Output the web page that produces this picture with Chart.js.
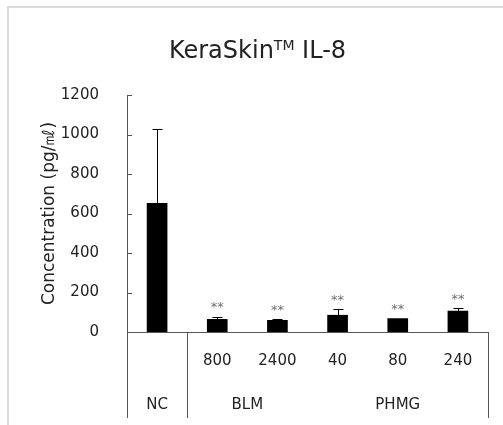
<!DOCTYPE html>
<html>
<head>
<meta charset="utf-8">
<script src="https://cdn.jsdelivr.net/npm/chart.js@4.4.0/dist/chart.umd.min.js"></script>
<style>
html,body{margin:0;padding:0;background:#fff;}
#wrap{width:503px;height:425px;}
</style>
</head>
<body>
<div id="wrap"><canvas id="il8Chart" width="503" height="425"></canvas></div>
<script>
// values
const doses = ['', '800', '2400', '40', '80', '240'];
const meanValues = [651, 64, 59, 85, 68, 106];
const errorValues = [377, 14, 5, 30, 0, 13];
const marks = ['', '**', '**', '**', '**', '**'];
const groupNames = ['NC', 'BLM', 'PHMG'];
const groupFirst = [0, 1, 3];
const groupLast = [0, 2, 5];
const dividers = [-0.5, 0.5, 5.5];
const yMax = 1200;
const yStep = 200;

const FONT = '"DejaVu Sans", sans-serif';
const AXIS_COLOR = '#555';
const TEXT_COLOR = '#222';

const extrasPlugin = {
    id: 'extras',
    beforeDraw(chart) {
        const ctx = chart.ctx;
        ctx.save();
        ctx.fillStyle = '#fff';
        ctx.fillRect(0, 0, chart.width, chart.height);
        // frame of the original figure
        ctx.strokeStyle = '#d9d9d9';
        ctx.lineWidth = 2;
        ctx.beginPath();
        ctx.moveTo(8, chart.height);
        ctx.lineTo(8, 7);
        ctx.lineTo(chart.width, 7);
        ctx.stroke();
        ctx.restore();
    },
    afterDatasetsDraw(chart) {
        const ctx = chart.ctx;
        const y = chart.scales.y;
        const meta = chart.getDatasetMeta(0);
        ctx.save();
        meta.data.forEach((bar, i) => {
            const top = y.getPixelForValue(meanValues[i] + errorValues[i]);
            if (errorValues[i] > 0) {
                const x = Math.round(bar.x) + 0.5;
                const yt = Math.round(top) + 0.5;
                ctx.strokeStyle = '#000';
                ctx.lineWidth = 1;
                ctx.beginPath();
                ctx.moveTo(x, bar.y);
                ctx.lineTo(x, yt);
                ctx.moveTo(x - 5, yt);
                ctx.lineTo(x + 5, yt);
                ctx.stroke();
            }
            if (marks[i]) {
                ctx.fillStyle = '#6f6f6f';
                ctx.font = '13px ' + FONT;
                ctx.textAlign = 'center';
                ctx.textBaseline = 'middle';
                ctx.fillText(marks[i], bar.x, top - 9);
            }
        });
        ctx.restore();
    },
    afterDraw(chart) {
        const ctx = chart.ctx;
        const area = chart.chartArea;
        const x = chart.scales.x;
        const y = chart.scales.y;
        ctx.save();

        // title with superscript TM
        const main = 'KeraSkin', tm = 'TM', rest = ' IL-8';
        ctx.font = '24px ' + FONT;
        const wMain = ctx.measureText(main).width;
        const wRest = ctx.measureText(rest).width;
        ctx.font = '14px ' + FONT;
        const wTm = ctx.measureText(tm).width;
        let tx = chart.width / 2 + 6 - (wMain + wTm + wRest) / 2;
        ctx.fillStyle = TEXT_COLOR;
        ctx.textAlign = 'left';
        ctx.textBaseline = 'alphabetic';
        ctx.font = '24px ' + FONT;
        ctx.fillText(main, tx, 58);
        tx += wMain;
        ctx.font = '14px ' + FONT;
        ctx.fillText(tm, tx, 50);
        tx += wTm;
        ctx.font = '24px ' + FONT;
        ctx.fillText(rest, tx, 58);

        // y axis title
        ctx.save();
        ctx.translate(50, (area.top + area.bottom) / 2);
        ctx.rotate(-Math.PI / 2);
        ctx.font = '17px ' + FONT;
        ctx.textAlign = 'center';
        ctx.textBaseline = 'middle';
        ctx.fillText('Concentration (pg/㎖)', 0, 0);
        ctx.restore();

        // inward tick marks
        ctx.strokeStyle = AXIS_COLOR;
        ctx.lineWidth = 1;
        ctx.beginPath();
        y.ticks.forEach(t => {
            const py = Math.round(y.getPixelForValue(t.value)) + 0.5;
            ctx.moveTo(area.left, py);
            ctx.lineTo(area.left + 5, py);
        });
        // group dividers below the axis
        dividers.forEach(d => {
            const px = Math.round(x.getPixelForValue(d)) + 0.5;
            ctx.moveTo(px, area.bottom);
            ctx.lineTo(px, chart.height - 7);
        });
        ctx.stroke();

        // group names
        ctx.fillStyle = TEXT_COLOR;
        ctx.font = '15px ' + FONT;
        ctx.textAlign = 'center';
        ctx.textBaseline = 'middle';
        groupNames.forEach((g, i) => {
            const gx = (x.getPixelForValue(groupFirst[i]) + x.getPixelForValue(groupLast[i])) / 2;
            ctx.fillText(g, gx, 405);
        });
        ctx.restore();
    }
};

const ctx = document.getElementById('il8Chart').getContext('2d');
const il8Chart = new Chart(ctx, {
    type: 'bar',
    data: {
        labels: doses,
        datasets: [{
            data: meanValues,
            backgroundColor: '#000',
            borderWidth: 0,
            barThickness: 20
        }]
    },
    options: {
        responsive: false,
        animation: false,
        devicePixelRatio: 1,
        layout: {padding: {top: 95, right: 15, bottom: 0, left: 0}},
        plugins: {
            legend: {display: false},
            tooltip: {enabled: false},
            title: {display: false}
        },
        scales: {
            x: {
                grid: {display: false},
                border: {display: true, color: AXIS_COLOR, width: 1},
                ticks: {
                    color: TEXT_COLOR,
                    font: {family: FONT, size: 15},
                    padding: 12,
                    maxRotation: 0,
                    autoSkip: false
                },
                afterFit(scale) { scale.height = 93; }
            },
            y: {
                min: 0,
                max: yMax,
                grid: {display: false},
                border: {display: true, color: AXIS_COLOR, width: 1},
                ticks: {
                    stepSize: yStep,
                    color: TEXT_COLOR,
                    font: {family: FONT, size: 15},
                    padding: 20,
                    callback: v => String(v)
                },
                afterFit(scale) { scale.width = 127; }
            }
        }
    },
    plugins: [extrasPlugin]
});
</script>
</body>
</html>
